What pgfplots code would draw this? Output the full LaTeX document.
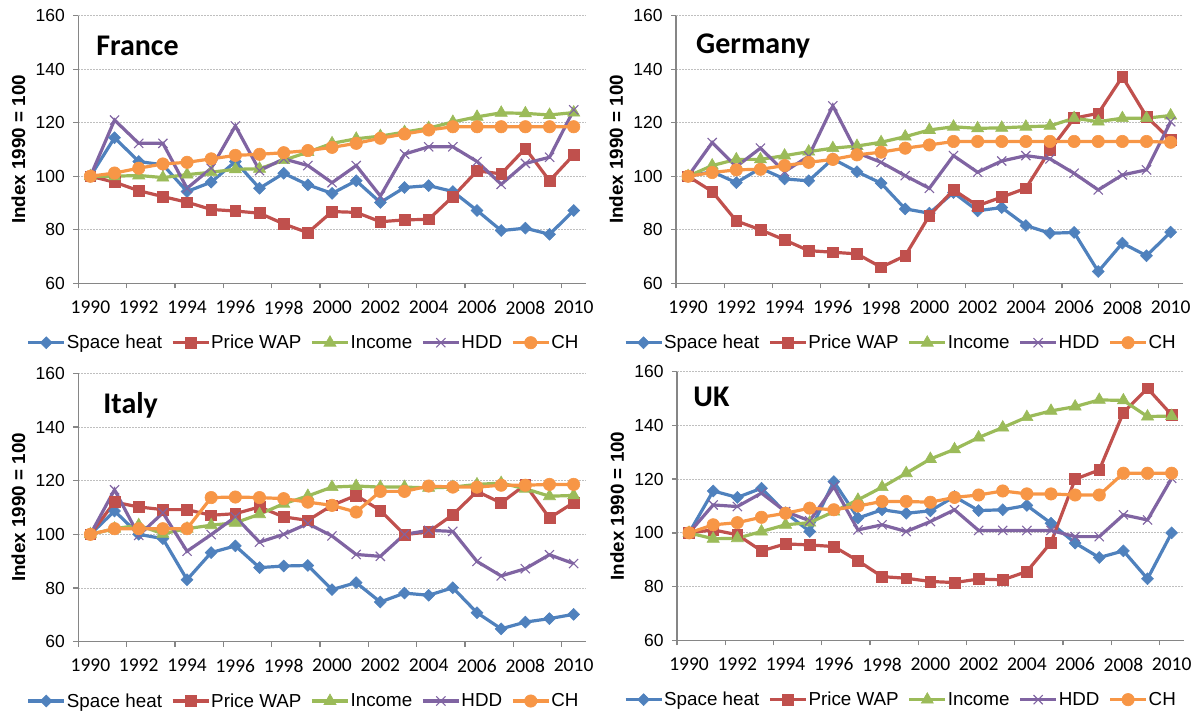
\documentclass[border=0pt]{standalone}
\usepackage{pgfplots}
\usepackage{pgfplotstable}
\pgfplotsset{compat=1.18}
\usepackage{fontspec}
\setmainfont{Liberation Sans}
\newfontfamily\calibri{Carlito}
\definecolor{cSH}{HTML}{4F81BD}
\definecolor{cPW}{HTML}{C0504D}
\definecolor{cIN}{HTML}{9BBB59}
\definecolor{cHD}{HTML}{8064A2}
\definecolor{cCH}{HTML}{F79646}
\definecolor{axgray}{HTML}{868686}
\definecolor{gridgray}{HTML}{BFBFBF}

\pgfplotstableread{
year sh pw inc hdd ch
1990 100 100 100 100 100
1991 114.4 97.8 100 121 101.2
1992 105.5 94.6 100.3 112.3 103
1993 104.3 92.4 99.5 112.3 104.6
1994 94.3 90.3 100.6 95.5 105.2
1995 97.8 87.6 101.5 103 106.5
1996 105.5 87.0 102.6 118.8 107.8
1997 95.5 86.2 102.8 102.1 108.2
1998 101.1 82.2 106 106.5 108.8
1999 96.8 78.9 109 104 109.6
2000 93.6 86.8 112.3 97.6 110.8
2001 98.3 86.5 114 104 112.3
2002 90.2 83.0 115 92.6 114.2
2003 95.8 83.7 116.5 108.3 115.8
2004 96.5 83.9 118 111 117.3
2005 94.3 92.4 120.3 111 118.5
2006 87.2 102.0 122.2 105.5 118.5
2007 79.7 100.9 123.7 97 118.5
2008 80.6 110.4 123.5 104.8 118.5
2009 78.3 98.3 122.9 107.1 118.5
2010 87.2 108.0 123.8 124.8 118.5
}\franceT

\pgfplotstableread{
year sh pw inc hdd ch
1990 100 100 100 100 100
1991 101.7 94.3 104 112.6 101.4
1992 97.6 83.3 106.3 103.6 102.4
1993 103 80 106.3 110.5 102.6
1994 99 76.2 107.7 101.7 104
1995 98.3 72.2 109.2 107.5 105.2
1996 106.5 71.6 110.5 126.3 106.3
1997 101.7 71.0 111.3 108.8 108
1998 97.4 66.0 112.7 105.2 109
1999 87.8 70.3 114.8 100.2 110.5
2000 86.2 85.3 117.3 95.5 111.7
2001 93.9 94.9 118.5 107.7 113
2002 87.1 89.0 117.9 101.5 113
2003 88.3 92.2 118.1 105.7 113
2004 81.6 95.5 118.5 107.7 113
2005 78.7 109.8 118.8 106.5 113
2006 79 121.7 121.7 101.1 113
2007 64.4 123.5 120.4 94.9 113
2008 75 137.2 121.7 100.5 113
2009 70.3 122.3 121.7 102.4 113
2010 79.1 113.6 122.7 120.4 112.7
}\germanyT

\pgfplotstableread{
year sh pw inc hdd ch
1990 100 100 100 100 100
1991 108.7 112 102.1 116.6 102.1
1992 100 110.2 103.4 99.6 102.1
1993 98.4 109.2 100.2 108 102.1
1994 83.1 109.2 102.1 93.7 102.1
1995 93.2 107.1 103.4 99.9 113.7
1996 95.7 107.7 104.3 106.5 113.9
1997 87.6 110.2 107.5 97.1 113.7
1998 88.2 106.5 111.4 100 113.3
1999 88.4 105.2 114.3 104 112
2000 79.4 110.8 117.6 99.4 110.8
2001 82 114.5 118 92.5 108.3
2002 74.8 108.9 117.6 91.8 116
2003 78.1 99.9 117.6 100 116
2004 77.3 100.9 117.3 101.5 118
2005 80.1 107.3 117.6 101.1 117.6
2006 70.8 116 118.6 89.9 117.6
2007 64.8 111.7 119.1 84.5 118.3
2008 67.3 118.5 117 87.2 118.3
2009 68.6 106.1 114.2 92.4 118.6
2010 70.2 111.8 114.5 89.1 118.6
}\italyT

\pgfplotstableread{
year sh pw inc hdd ch
1990 100 100 100 100 100
1991 115.6 101.1 97.8 110.4 103
1992 113.2 99.3 98 109.8 103.8
1993 116.6 93.3 100.5 114.8 105.8
1994 107.5 95.9 103 107.9 107.3
1995 100.5 95.5 103.8 104.5 109.2
1996 119.1 94.9 107.9 117.2 108.6
1997 105.5 89.6 112.3 101.1 110
1998 108.6 83.7 117 103 111.7
1999 107.3 83.1 122.2 100.5 111.7
2000 108.2 81.9 127.5 104.2 111.4
2001 113.5 81.5 131.1 108.6 113.2
2002 108.3 82.8 135.5 100.9 114.1
2003 108.6 82.5 139.2 100.9 115.6
2004 110.2 85.6 143.1 100.9 114.5
2005 103.6 96.4 145.4 100.9 114.5
2006 96.2 120 147 98.6 114.1
2007 90.8 123.4 149.5 98.6 114.1
2008 93.3 144.8 149.3 106.7 122.2
2009 82.9 153.8 143.3 104.8 122.2
2010 100 143.9 143.5 120.3 122.2
}\ukT

\tikzset{ttl/.style={anchor=base west, inner sep=0pt, font=\calibri\bfseries\fontsize{30bp}{30bp}\selectfont}}

\pgfplotsset{
  panel/.style={
    scale only axis, clip=false,
    xmin=1989.5, xmax=2010.5,
    ymin=60, ymax=160,
    ytick={60,80,...,160},
    xtick={1990,1992,...,2010},
    minor xtick={1989.5,1991.5,...,2009.5},
    axis x line*=bottom, axis y line*=left,
    axis line style={axgray, line width=1.3bp},
    tick align=outside,
    major tick length=5bp, minor tick length=5bp,
    tick style={axgray, line width=1.3bp},
    major x tick style={draw=none},
    ymajorgrids,
    major grid style={gridgray, line width=0.9bp, dash pattern=on 1.5bp off 1.5bp},
    /pgf/number format/.cd, 1000 sep={}, assume math mode=true, /pgfplots/.cd,
    xticklabel style={font=\calibri\fontsize{19.5bp}{22bp}\selectfont, yshift=-9bp},
    yticklabel style={font=\fontsize{17.5bp}{19bp}\selectfont, xshift=-5bp},
    ylabel={Index 1990 = 100},
    ylabel style={font=\bfseries\fontsize{18.8bp}{20bp}\selectfont, at={(axis description cs:-0.118,0.5)}, anchor=center},
    legend columns=5,
    legend style={at={(axis description cs:-0.1017,-0.222)}, anchor=west, draw=none, fill=none,
      inner sep=0pt, outer sep=0pt,
      font=\fontsize{18.8bp}{20bp}\selectfont,
      nodes={inner sep=1bp},
      /tikz/every even column/.append style={column sep=8bp}},
    legend image code/.code={\draw[mark repeat=2,mark phase=2,##1] plot coordinates {(0bp,0bp) (18bp,0bp) (36bp,0bp)};},
  },
  sh/.style={cSH, line width=3.2bp, mark=square*, mark size=4.2bp, mark options={rotate=45, solid, line width=0.6bp, fill=cSH}},
  pw/.style={cPW, line width=3.2bp, mark=square*, mark size=5.4bp, mark options={solid, line width=0.6bp, fill=cPW}},
  inc/.style={cIN, line width=3.2bp, mark=triangle*, mark size=7bp, mark options={solid, line width=0.6bp, fill=cIN}},
  hdd/.style={cHD, line width=3.2bp, mark=x, mark size=6.5bp, mark options={solid, line width=1.1bp}},
  chs/.style={cCH, line width=3.2bp, mark=*, mark size=6.2bp, mark options={solid, line width=0.6bp, fill=cCH}},
}

\begin{document}
\begin{tikzpicture}
\useasboundingbox (0bp,0bp) rectangle (1197bp,713bp);

\begin{axis}[panel, at={(78.3bp,429.7bp)}, anchor=south west, width=507.5bp, height=267.6bp]
\addplot[sh] table[x=year,y=sh]{\franceT}; \addlegendentry{Space heat}
\addplot[pw] table[x=year,y=pw]{\franceT}; \addlegendentry{Price WAP}
\addplot[inc] table[x=year,y=inc]{\franceT}; \addlegendentry{Income}
\addplot[hdd] table[x=year,y=hdd]{\franceT}; \addlegendentry{HDD}
\addplot[chs] table[x=year,y=ch]{\franceT}; \addlegendentry{CH}
\node[ttl] at (rel axis cs:0.035,0.853) {France};
\end{axis}

\begin{axis}[panel, at={(676bp,429.7bp)}, anchor=south west, width=506.7bp, height=267.6bp,
  legend style={at={(axis description cs:-0.1027,-0.222)}}]
\addplot[sh] table[x=year,y=sh]{\germanyT}; \addlegendentry{Space heat}
\addplot[pw] table[x=year,y=pw]{\germanyT}; \addlegendentry{Price WAP}
\addplot[inc] table[x=year,y=inc]{\germanyT}; \addlegendentry{Income}
\addplot[hdd] table[x=year,y=hdd]{\germanyT}; \addlegendentry{HDD}
\addplot[chs] table[x=year,y=ch]{\germanyT}; \addlegendentry{CH}
\node[ttl] at (rel axis cs:0.0395,0.8595) {Germany};
\end{axis}

\begin{axis}[panel, at={(78.3bp,71.3bp)}, anchor=south west, width=507.4bp, height=268.4bp,
  legend style={at={(axis description cs:-0.1017,-0.221)}}]
\addplot[sh] table[x=year,y=sh]{\italyT}; \addlegendentry{Space heat}
\addplot[pw] table[x=year,y=pw]{\italyT}; \addlegendentry{Price WAP}
\addplot[inc] table[x=year,y=inc]{\italyT}; \addlegendentry{Income}
\addplot[hdd] table[x=year,y=hdd]{\italyT}; \addlegendentry{HDD}
\addplot[chs] table[x=year,y=ch]{\italyT}; \addlegendentry{CH}
\node[ttl] at (rel axis cs:0.049,0.851) {Italy};
\end{axis}

\begin{axis}[panel, at={(677bp,72.7bp)}, anchor=south west, width=506.7bp, height=268.6bp,
  legend style={at={(axis description cs:-0.1046,-0.221)}}]
\addplot[sh] table[x=year,y=sh]{\ukT}; \addlegendentry{Space heat}
\addplot[pw] table[x=year,y=pw]{\ukT}; \addlegendentry{Price WAP}
\addplot[inc] table[x=year,y=inc]{\ukT}; \addlegendentry{Income}
\addplot[hdd] table[x=year,y=hdd]{\ukT}; \addlegendentry{HDD}
\addplot[chs] table[x=year,y=ch]{\ukT}; \addlegendentry{CH}
\node[ttl] at (rel axis cs:0.032,0.872) {UK};
\end{axis}
\end{tikzpicture}
\end{document}
